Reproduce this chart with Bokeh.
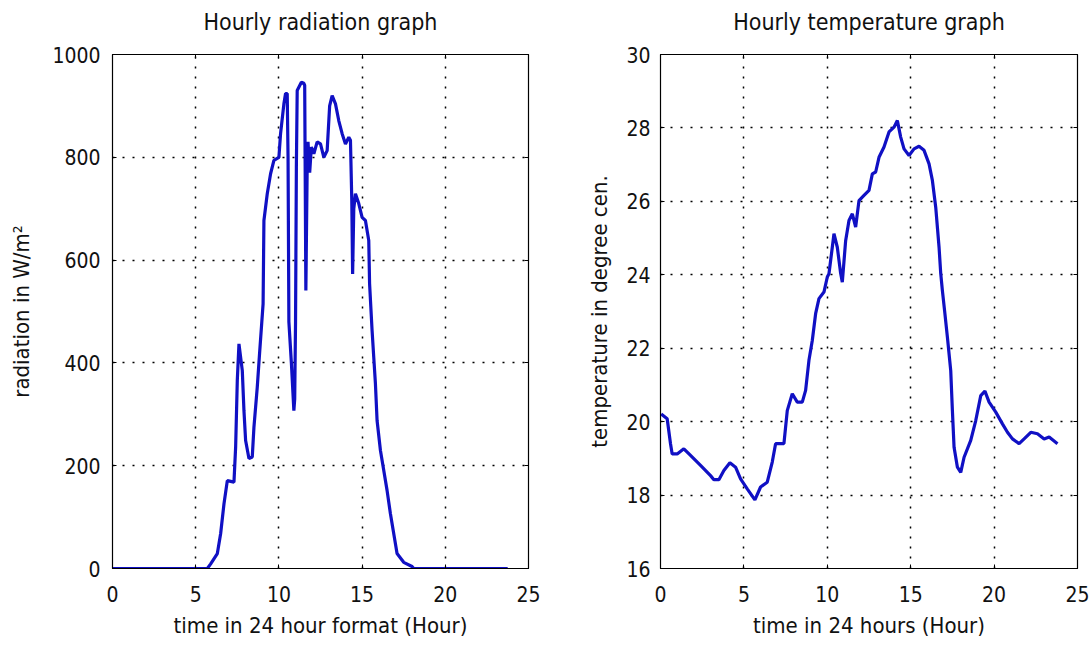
from bokeh.plotting import figure
from bokeh.layouts import row
from bokeh.models import LinearAxis, FixedTicker, Range1d
from bokeh.embed import file_html
from bokeh.resources import INLINE

# ---------------- data ----------------
rad_hours = [0.0, 5.7, 5.9, 6.3, 6.5, 6.7, 6.9, 7.3, 7.4, 7.5, 7.6, 7.8, 7.9, 8.0,
             8.2, 8.4, 8.5, 8.7, 8.85, 9.05, 9.1, 9.3, 9.5, 9.7, 10.0, 10.1, 10.3,
             10.4, 10.5, 10.55, 10.6, 10.75, 10.9, 10.95, 11.0, 11.05, 11.1, 11.35,
             11.5, 11.55, 11.62, 11.7, 11.75, 11.85, 11.95, 12.1, 12.3, 12.5, 12.7,
             12.9, 13.05, 13.2, 13.4, 13.6, 13.8, 14.0, 14.2, 14.3, 14.38, 14.43,
             14.5, 14.6, 14.8, 15.0, 15.2, 15.4, 15.45, 15.6, 15.7, 15.8, 15.9,
             16.1, 16.3, 16.5, 16.7, 16.9, 17.1, 17.5, 18.0, 18.1, 23.75]
rad_values = [0, 0, 9, 29, 68, 126, 171, 168, 236, 366, 437, 385, 307, 249,
              214, 217, 275, 353, 424, 515, 677, 729, 768, 794, 800, 846, 904,
              924, 924, 800, 480, 400, 307, 330, 480, 780, 930, 946,
              944, 940, 541, 780, 830, 770, 820, 807, 830, 826, 800,
              813, 900, 920, 904, 871, 846, 826, 839, 833, 716, 573,
              700, 729, 710, 683, 677, 638, 554, 463, 411, 360, 288,
              230, 191, 152, 107, 68, 29, 12, 4, 0, 0]

temp_hours = [0.04, 0.4, 0.6, 0.7, 1.0, 1.4, 1.8, 2.4, 3.0, 3.2, 3.5, 3.8, 4.16,
              4.5, 4.8, 5.2, 5.66, 6.0, 6.4, 6.7, 6.9, 7.4, 7.6, 7.9, 8.2, 8.5,
              8.7, 8.9, 9.1, 9.3, 9.5, 9.8, 10.0, 10.1, 10.3, 10.4, 10.6, 10.8,
              10.9, 11.1, 11.3, 11.5, 11.7, 11.9, 12.2, 12.5, 12.7, 12.9, 13.1,
              13.4, 13.7, 14.0, 14.2, 14.4, 14.6, 14.9, 15.2, 15.5, 15.8, 16.1,
              16.3, 16.5, 16.7, 16.8, 16.9, 17.03, 17.2, 17.4, 17.5, 17.6, 17.8,
              18.0, 18.2, 18.6, 18.9, 19.2, 19.45, 19.7, 20.1, 20.5, 20.8, 21.1,
              21.5, 21.8, 22.2, 22.6, 23.0, 23.3, 23.8]
temp_values = [20.21, 20.08, 19.40, 19.12, 19.12, 19.26, 19.08, 18.81, 18.53,
               18.42, 18.42, 18.67, 18.88, 18.76, 18.44, 18.17, 17.87, 18.22,
               18.35, 18.90, 19.40, 19.40, 20.30, 20.76, 20.53, 20.53, 20.85,
               21.67, 22.21, 22.94, 23.35, 23.53, 23.94, 24.03, 24.75, 25.12,
               24.75, 24.04, 23.80, 24.93, 25.48, 25.66, 25.30, 26.02, 26.16,
               26.30, 26.75, 26.80, 27.20, 27.48, 27.89, 28.02, 28.20, 27.75,
               27.43, 27.25, 27.43, 27.50, 27.39, 27.02, 26.57, 25.84, 24.75,
               24.04, 23.57, 23.03, 22.30, 21.39, 20.30, 19.30, 18.76, 18.62,
               19.03, 19.49, 20.03, 20.71, 20.83, 20.53, 20.26, 19.94, 19.71,
               19.53, 19.40, 19.53, 19.71, 19.67, 19.53, 19.58, 19.40]

x_ticks = [0, 5, 10, 15, 20, 25]
rad_ticks = [0, 200, 400, 600, 800, 1000]
temp_ticks = [16, 18, 20, 22, 24, 26, 28, 30]

FONT = "'Liberation Sans Narrow', 'DejaVu Sans Condensed', 'Liberation Sans', sans-serif"
TICK_FS = "21px"
LABEL_FS = "22px"
TITLE_FS = "23px"
LINE_COLOR = "#1010c4"


def style(p, title, xt, yt, xlabel, ylabel, ylab_standoff, ytick_standoff):
    p.xaxis.axis_label = xlabel
    p.yaxis.axis_label = ylabel
    # mirror axes (inward ticks only); the top one also carries the title
    top = LinearAxis(axis_label=title)
    p.add_layout(top, "above")
    p.add_layout(LinearAxis(), "right")
    for ax in p.axis:
        ax.major_tick_in = 4
        ax.major_tick_out = 0
        ax.minor_tick_line_color = None
        ax.axis_line_color = "black"
        ax.axis_line_width = 1.2
        ax.major_tick_line_color = "black"
        ax.major_label_text_font = FONT
        ax.major_label_text_font_size = TICK_FS
        ax.major_label_text_color = "#111111"
        ax.axis_label_text_font = FONT
        ax.axis_label_text_font_size = LABEL_FS
        ax.axis_label_text_font_style = "normal"
        ax.axis_label_text_color = "#111111"
    for ax in p.xaxis:
        ax.ticker = FixedTicker(ticks=xt)
    for ax in p.yaxis:
        ax.ticker = FixedTicker(ticks=yt)
    for ax in [top, p.right[-1]]:
        ax.major_label_text_font_size = "0px"
        ax.major_label_text_color = None
        ax.major_label_standoff = 0
    top.axis_label_text_font_size = TITLE_FS
    top.axis_label_standoff = 20
    p.below[0].major_label_standoff = 17
    p.below[0].axis_label_standoff = 8
    p.left[0].major_label_standoff = ytick_standoff
    p.left[0].axis_label_standoff = ylab_standoff
    p.xgrid.ticker = FixedTicker(ticks=xt)
    p.ygrid.ticker = FixedTicker(ticks=yt)
    for g in (p.xgrid[0], p.ygrid[0]):
        g.grid_line_color = "black"
        g.grid_line_dash = "2 8"
        g.grid_line_width = 1.5
    p.outline_line_color = "black"


p1 = figure(width=576, height=646, output_backend="svg", toolbar_location=None,
            x_range=Range1d(0, 25), y_range=Range1d(0, 1000),
            min_border_left=112, min_border_right=48, min_border_top=54,
            min_border_bottom=78, background_fill_color="white",
            border_fill_color="white")
p1.line(rad_hours, rad_values, line_color=LINE_COLOR, line_width=3.2)
style(p1, "Hourly radiation graph", x_ticks, rad_ticks,
      "time in 24 hour format (Hour)", "radiation in W/m\u00b2", 15, 12)

p2 = figure(width=515, height=646, output_backend="svg", toolbar_location=None,
            x_range=Range1d(0, 25), y_range=Range1d(16, 30),
            min_border_left=84, min_border_right=14, min_border_top=54,
            min_border_bottom=78, background_fill_color="white",
            border_fill_color="white")
p2.line(temp_hours, temp_values, line_color=LINE_COLOR, line_width=3.2)
style(p2, "Hourly temperature graph", x_ticks, temp_ticks,
      "time in 24 hours (Hour)", "temperature in degree cen.", 11, 10)

layout = row(p1, p2)
open("out.html", "w").write(file_html(layout, INLINE))
